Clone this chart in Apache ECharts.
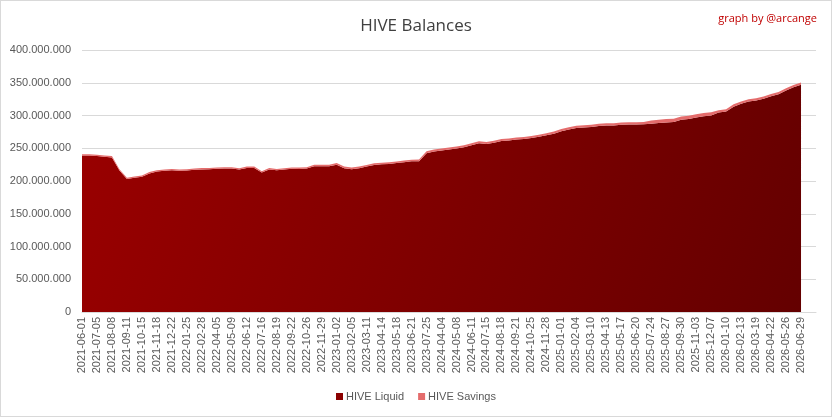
<!DOCTYPE html>
<html>
<head>
<meta charset="utf-8">
<title>HIVE Balances</title>
<script src="https://cdn.jsdelivr.net/npm/echarts@6/dist/echarts.min.js"></script>
<style>
    html, body { margin: 0; padding: 0; background: #fff; }
    #chart { width: 832px; height: 417px; box-sizing: border-box; border: 1px solid #d9d9d9; }
</style>
</head>
<body>
<div id="chart"></div>
<script>
// Tick labels shown on the x axis (every other category point)
const tickLabels = [
    '2021-06-01', '2021-07-05', '2021-08-08', '2021-09-11', '2021-10-15', '2021-11-18',
    '2021-12-22', '2022-01-25', '2022-02-28', '2022-04-05', '2022-05-09', '2022-06-12',
    '2022-07-16', '2022-08-19', '2022-09-22', '2022-10-26', '2022-11-29', '2023-01-02',
    '2023-02-05', '2023-03-11', '2023-04-14', '2023-05-18', '2023-06-21', '2023-07-25',
    '2024-04-04', '2024-05-08', '2024-06-11', '2024-07-15', '2024-08-18', '2024-09-21',
    '2024-10-25', '2024-11-28', '2025-01-01', '2025-02-04', '2025-03-10', '2025-04-13',
    '2025-05-17', '2025-06-20', '2025-07-24', '2025-08-27', '2025-09-30', '2025-11-03',
    '2025-12-07', '2026-01-10', '2026-02-13', '2026-03-19', '2026-04-22', '2026-05-26',
    '2026-06-29'
];

// Sample points between the labelled dates (unlabelled)
const midDates = [
    '2021-06-18', '2021-07-22', '2021-08-25', '2021-09-28', '2021-11-01', '2021-12-05',
    '2022-01-08', '2022-02-11', '2022-03-17', '2022-04-22', '2022-05-26', '2022-06-29',
    '2022-08-02', '2022-09-05', '2022-10-09', '2022-11-12', '2022-12-16', '2023-01-19',
    '2023-02-22', '2023-03-28', '2023-05-01', '2023-06-04', '2023-07-08', '2023-08-11',
    '2024-04-21', '2024-05-25', '2024-06-28', '2024-08-01', '2024-09-04', '2024-10-08',
    '2024-11-11', '2024-12-15', '2025-01-18', '2025-02-21', '2025-03-27', '2025-04-30',
    '2025-06-03', '2025-07-07', '2025-08-10', '2025-09-13', '2025-10-17', '2025-11-20',
    '2025-12-24', '2026-01-27', '2026-03-02', '2026-04-05', '2026-05-09', '2026-06-12',
    '2026-07-16'
];
const lastDate = '2026-08-02';

// HIVE Liquid (millions)
const liquid = [
    239.0, 239.0, 238.0, 237.0, 236.0, 216.0, 203.0, 205.0, 206.5, 211.6,
    214.5, 215.5, 216.5, 215.7, 216.0, 217.0, 217.7, 218.0, 218.7, 219.0,
    219.0, 217.5, 220.0, 220.0, 213.0, 217.7, 216.5, 217.5, 218.7, 218.5,
    219.0, 222.5, 222.5, 222.5, 225.0, 219.5, 218.0, 219.5, 222.0, 224.5,
    225.5, 226.0, 227.3, 228.8, 230.0, 230.3, 242.5, 245.0, 246.5, 248.0,
    249.5, 251.5, 254.5, 257.6, 256.6, 258.5, 261.0, 262.0, 263.3, 264.0,
    265.8, 267.7, 270.0, 272.2, 276.0, 278.5, 280.8, 281.8, 282.5, 283.8,
    284.8, 284.8, 286.0, 286.3, 286.3, 286.5, 287.5, 288.5, 289.5, 290.0,
    293.5, 294.5, 297.0, 299.0, 300.0, 304.5, 306.0, 313.5, 318.0, 321.5,
    323.0, 325.5, 329.5, 332.5, 338.0, 343.0, 347.0
];

// HIVE Savings (millions)
const savings = [
    2.0, 2.0, 2.0, 2.0, 2.0, 2.0, 2.0, 2.0, 2.0, 2.0,
    2.0, 2.0, 2.0, 2.0, 2.0, 2.0, 2.0, 2.0, 2.0, 2.0,
    2.0, 2.0, 2.0, 2.0, 2.0, 2.0, 2.0, 2.0, 2.0, 2.0,
    2.0, 2.5, 2.5, 2.5, 2.5, 2.5, 2.5, 2.5, 2.5, 2.5,
    2.5, 2.5, 2.5, 2.5, 2.5, 2.5, 3.0, 3.0, 3.0, 3.0,
    3.0, 3.0, 3.0, 3.0, 3.0, 3.0, 3.0, 3.0, 3.0, 3.0,
    3.0, 3.0, 3.0, 3.5, 3.5, 3.5, 3.5, 3.5, 3.5, 3.5,
    3.5, 3.5, 3.5, 3.5, 3.5, 3.5, 5.0, 5.0, 5.0, 5.0,
    5.0, 5.0, 5.0, 5.0, 5.0, 3.5, 3.5, 3.5, 3.5, 3.5,
    3.5, 3.5, 3.5, 3.5, 3.5, 3.5, 3.5
];

// Build the category list: label, mid, label, mid, ..., last
const categories = [];
tickLabels.forEach((d, i) => {
    categories.push(d);
    categories.push(midDates[i]);
});
categories.push(lastDate);

const FONT = 'Liberation Sans';

function formatThousands(v) {
    return String(Math.round(v)).replace(/\B(?=(\d{3})+(?!\d))/g, '.');
}

const chart = echarts.init(document.getElementById('chart'), null, { renderer: 'canvas' });

const option = {
    backgroundColor: '#ffffff',
    animation: false,
    title: [
        {
            text: 'HIVE Balances',
            left: 'center',
            top: 12,
            textStyle: { fontFamily: 'Open Sans', fontSize: 17, fontWeight: 'normal', color: '#404040' }
        },
        {
            text: 'graph by @arcange',
            right: 9,
            top: 7,
            textStyle: { fontFamily: 'Open Sans', fontSize: 11, fontWeight: 'normal', color: '#c00000' }
        }
    ],
    legend: {
        bottom: 9,
        left: 'center',
        itemWidth: 7,
        itemHeight: 7,
        itemGap: 14,
        icon: 'rect',
        textStyle: { fontFamily: FONT, fontSize: 11, color: '#595959', padding: [0, 0, 0, -2] },
        data: ['HIVE Liquid', 'HIVE Savings']
    },
    grid: { left: 81, right: 15, top: 49, bottom: 104, containLabel: false },
    xAxis: {
        type: 'category',
        boundaryGap: false,
        data: categories,
        axisLine: { show: true, lineStyle: { color: '#d9d9d9' } },
        axisTick: { show: false },
        axisLabel: {
            rotate: 90,
            interval: (idx) => idx % 2 === 0 && idx < tickLabels.length * 2,
            fontFamily: FONT,
            fontSize: 11,
            color: '#595959',
            margin: 5
        }
    },
    yAxis: {
        type: 'value',
        min: 0,
        max: 400000000,
        interval: 50000000,
        axisLine: { show: false },
        axisTick: { show: false },
        splitLine: { lineStyle: { color: '#d9d9d9', width: 1 } },
        axisLabel: {
            formatter: formatThousands,
            fontFamily: FONT,
            fontSize: 11,
            color: '#595959',
            margin: 11
        }
    },
    series: [
        {
            name: 'HIVE Liquid',
            type: 'line',
            stack: 'total',
            data: liquid.map(v => v * 1e6),
            showSymbol: false,
            symbol: 'none',
            lineStyle: { width: 0 },
            itemStyle: { color: '#8b0000' },
            areaStyle: {
                opacity: 1,
                color: new echarts.graphic.LinearGradient(0, 0, 1, 1, [
                    { offset: 0, color: '#9a0000' },
                    { offset: 1, color: '#640000' }
                ])
            }
        },
        {
            name: 'HIVE Savings',
            type: 'line',
            stack: 'total',
            data: savings.map(v => v * 1e6),
            showSymbol: false,
            symbol: 'none',
            lineStyle: { width: 0 },
            itemStyle: { color: '#e46c6c' },
            areaStyle: { opacity: 1, color: '#e46c6c' }
        }
    ]
};

chart.setOption(option);
</script>
</body>
</html>
